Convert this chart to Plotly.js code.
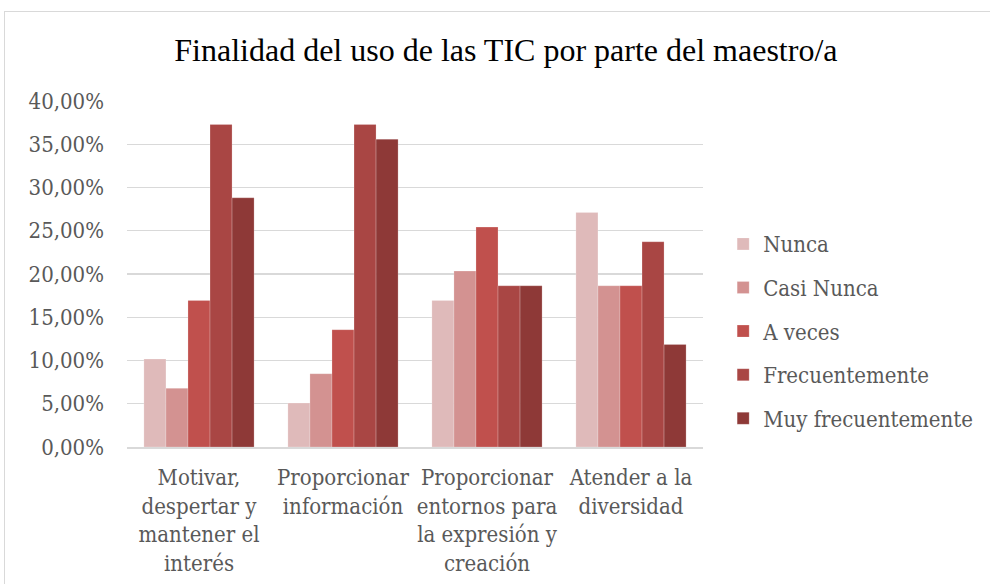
<!DOCTYPE html>
<html>
<head>
<meta charset="utf-8">
<script src="https://cdn.plot.ly/plotly-3.0.1.min.js"></script>
<style>
  html, body { margin: 0; padding: 0; background: #ffffff; }
  #frame { position: absolute; left: 4px; top: 11px; width: 1000px; height: 600px; border: 1px solid #d9d9d9; box-sizing: border-box; }
  #chart { position: absolute; left: 0; top: 0; width: 990px; height: 584px; }
</style>
</head>
<body>
<div id="frame"></div>
<div id="chart"></div>
<script>
const categories = [
  "Motivar,<br>despertar y<br>mantener el<br>interés",
  "Proporcionar<br>información",
  "Proporcionar<br>entornos para<br>la expresión y<br>creación",
  "Atender a la<br>diversidad"
];
const seriesNames = ["Nunca", "Casi Nunca", "A veces", "Frecuentemente", "Muy frecuentemente"];
const nunca = [0.1017, 0.0508, 0.1695, 0.2712];
const casiNunca = [0.0678, 0.0847, 0.2034, 0.1864];
const aVeces = [0.1695, 0.1356, 0.2542, 0.1864];
const frecuentemente = [0.3729, 0.3729, 0.1864, 0.2373];
const muyFrecuentemente = [0.2881, 0.3559, 0.1864, 0.1186];
const colors = ["#dfbaba", "#d39291", "#c0504d", "#a94644", "#8e3937"];

const seriesValues = [nunca, casiNunca, aVeces, frecuentemente, muyFrecuentemente];
const serif = "DejaVu Serif Condensed, DejaVu Serif, serif";

const data = seriesValues.map((vals, i) => ({
  type: "bar",
  name: seriesNames[i],
  x: categories,
  y: vals,
  legendgroup: "g" + i,
  marker: { color: colors[i], line: { color: "rgba(255,255,255,0.35)", width: 0.6 } },
  hoverinfo: "x+y+name"
}));

const layout = {
  width: 990,
  height: 584,
  paper_bgcolor: "rgba(0,0,0,0)",
  plot_bgcolor: "rgba(0,0,0,0)",
  margin: { l: 127, r: 285, t: 101, b: 137 },
  separators: ",.",
  title: {
    text: "Finalidad del uso de las TIC por parte del maestro/a",
    font: { family: "Liberation Serif, Times New Roman, serif", size: 32, color: "#000000" },
    x: 0.511, xanchor: "center", y: 0.915, yanchor: "middle"
  },
  barmode: "group",
  bargap: 0.235,
  bargroupgap: 0,
  xaxis: {
    type: "category",
    tickfont: { family: serif, size: 22, color: "#595959" },
    ticklabelstandoff: 10,
    showline: true, linecolor: "#d9d9d9", linewidth: 1.5,
    ticks: "", showgrid: false, tickangle: 0, automargin: false
  },
  yaxis: {
    range: [0, 0.4],
    dtick: 0.05,
    tick0: 0,
    tickformat: ".2%",
    tickfont: { family: serif, size: 22, color: "#595959" },
    ticklabelstandoff: 22,
    showgrid: true, gridcolor: "#d9d9d9", gridwidth: 1.2,
    zeroline: false, showline: false, ticks: "", automargin: false
  },
  legend: {
    x: 1.035, xanchor: "left", y: 0.335, yanchor: "middle",
    font: { family: serif, size: 22, color: "#595959" },
    tracegroupgap: 12,
    itemwidth: 30,
    traceorder: "grouped",
    bgcolor: "rgba(0,0,0,0)"
  },
  showlegend: true
};

Plotly.newPlot("chart", data, layout, { displayModeBar: false, staticPlot: true });
</script>
</body>
</html>
